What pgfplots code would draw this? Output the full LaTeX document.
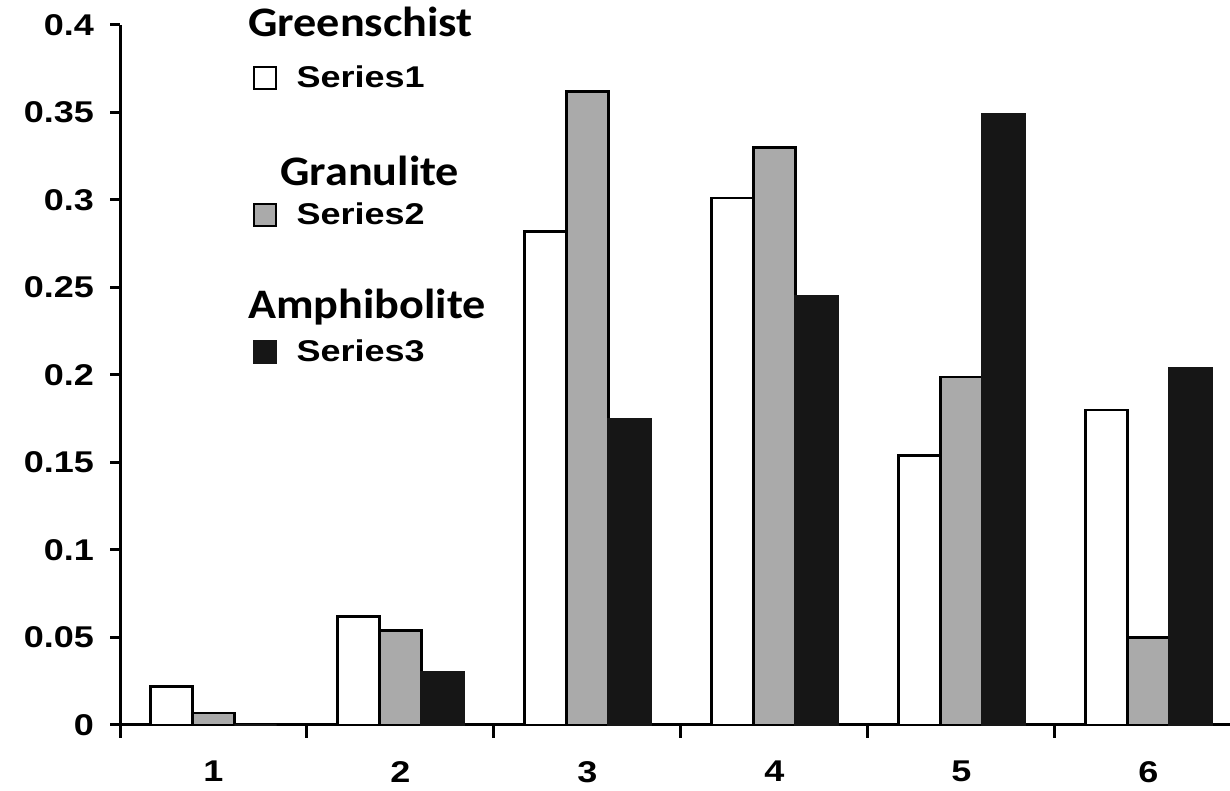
\documentclass[border=0pt]{standalone}
\usepackage{fontspec}
\setmainfont{Liberation Sans}
\newfontfamily\titlefont{Carlito}
\usepackage{graphicx}
\usepackage{pgfplots}
\pgfplotsset{compat=1.18}
\definecolor{barGray}{HTML}{AAAAAA}
\definecolor{barBlack}{HTML}{161616}
\newcommand{\wide}[1]{\scalebox{1.2}[1]{#1}}
\newcommand{\ttl}[1]{\scalebox{1.1}[1]{\titlefont\bfseries\fontsize{21}{21}\selectfont #1}}

\begin{document}
\begin{tikzpicture}
\begin{axis}[
    at={(0,0)}, anchor=south west,
    scale only axis,
    width=555pt, height=350pt,
    xmin=0.5, xmax=6.436,
    ymin=0, ymax=0.4,
    clip=false,
    axis lines*=left,
    axis line style={line width=1.5pt},
    ybar=0pt, bar width=21pt,
    tick align=outside,
    major tick length=5pt,
    minor tick length=6.5pt,
    xtick={1,2,3,4,5,6},
    xticklabels={\wide{1},\wide{2},\wide{3},\wide{4},\wide{5},\wide{6}},
    minor xtick={0.5,1.5,2.5,3.5,4.5,5.5,6.5},
    major x tick style={draw=none},
    minor x tick style={line width=1.5pt, black},
    ytick={0,0.05,0.1,0.15,0.2,0.25,0.3,0.35,0.4},
    yticklabels={\wide{0},\wide{0.05},\wide{0.1},\wide{0.15},\wide{0.2},\wide{0.25},\wide{0.3},\wide{0.35},\wide{0.4}},
    y tick style={line width=1.5pt, black},
    ticklabel style={font=\bfseries\fontsize{15}{15}\selectfont},
    yticklabel style={xshift=-4.5pt},
    xticklabel style={yshift=-9.5pt},
    legend style={at={(rel axis cs:0.1198,0.948)}, anchor=north west,
        draw=none, fill=none, inner sep=0pt, row sep=52pt,
        font=\bfseries\fontsize{15}{15}\selectfont},
    legend cell align=left,
    legend image code/.code={\draw[#1, line width=1pt] (0pt,-5.5pt) rectangle (11pt,5.5pt);
        \path (18.5pt,0pt);},
]
\addplot[fill=white, draw=black, line width=1.2pt] coordinates {
    (1,0.022) (2,0.062) (3,0.282) (4,0.301) (5,0.154) (6,0.180)};
\addplot[fill=barGray, draw=black, line width=1.2pt] coordinates {
    (1,0.007) (2,0.054) (3,0.362) (4,0.330) (5,0.199) (6,0.050)};
\addplot[fill=barBlack, draw=barBlack, line width=1.2pt] coordinates {
    (1,0) (2,0.030) (3,0.175) (4,0.245) (5,0.349) (6,0.204)};
\legend{\wide{Series1},\wide{Series2},\wide{Series3}}
\node[anchor=base west, inner sep=0pt] at (rel axis cs:0.1153,0.9829) {\ttl{Greenschist}};
\node[anchor=base west, inner sep=0pt] at (rel axis cs:0.1441,0.7714) {\ttl{Granulite}};
\node[anchor=base west, inner sep=0pt] at (rel axis cs:0.1153,0.5814) {\ttl{Amphibolite}};
\end{axis}
\pgfresetboundingbox
\path[use as bounding box] (-60pt,-33pt) rectangle (555pt,362.5pt);
\end{tikzpicture}
\end{document}
